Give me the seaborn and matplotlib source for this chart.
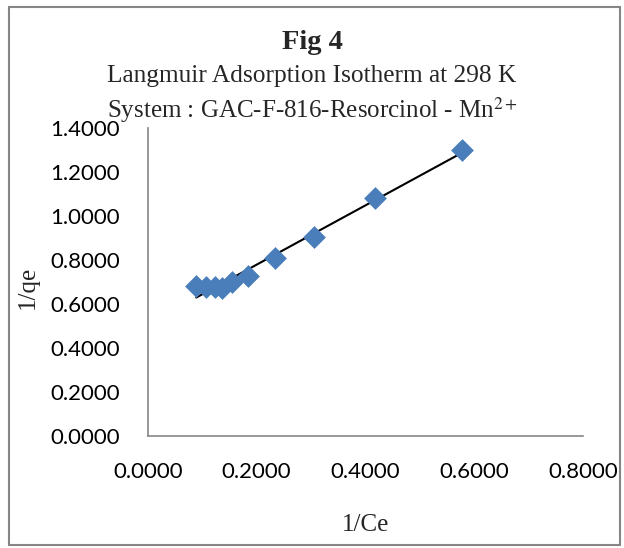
import numpy as np
import pandas as pd
import matplotlib
matplotlib.use('Agg')
import matplotlib.pyplot as plt
import seaborn as sns
from matplotlib.patches import Rectangle

# 数据
inv_ce = [0.089, 0.107, 0.123, 0.137, 0.154, 0.185, 0.234, 0.305, 0.418, 0.577]
inv_qe = [0.681, 0.679, 0.677, 0.675, 0.699, 0.729, 0.808, 0.903, 1.083, 1.303]

x_ticks = [0.0, 0.2, 0.4, 0.6, 0.8]
y_ticks = [0.0, 0.2, 0.4, 0.6, 0.8, 1.0, 1.2, 1.4]

df = pd.DataFrame({'1/Ce': inv_ce, '1/qe': inv_qe})

sns.set_style('white')
plt.rcParams['font.family'] = ['Lato', 'DejaVu Sans']
plt.rcParams['mathtext.fontset'] = 'stix'

fig = plt.figure(figsize=(6.24, 5.48), dpi=100)
ax = fig.add_axes([0.237, 0.2044, 0.697, 0.5616])

blue = '#4A7EBB'
sns.regplot(data=df, x='1/Ce', y='1/qe', ax=ax, scatter=False, ci=None,
            line_kws={'color': 'black', 'linewidth': 1.5})
sns.scatterplot(data=df, x='1/Ce', y='1/qe', ax=ax, marker='D', s=135,
                color=blue, edgecolor=blue, linewidth=0, zorder=3)

ax.set_xlim(0, 0.8)
ax.set_ylim(0, 1.4)
ax.set_xticks(x_ticks)
ax.set_yticks(y_ticks)
ax.set_xticklabels([f'{v:.4f}' for v in x_ticks])
ax.set_yticklabels([f'{v:.4f}' for v in y_ticks])
ax.tick_params(axis='both', length=0, labelsize=16, colors='black')
ax.tick_params(axis='x', pad=18.5)
ax.tick_params(axis='y', pad=20)

for side in ['top', 'right']:
    ax.spines[side].set_visible(False)
for side in ['left', 'bottom']:
    ax.spines[side].set_color('#868686')
    ax.spines[side].set_linewidth(1.2)

serif = ['Liberation Serif', 'DejaVu Serif']
ax.set_xlabel('1/Ce', fontsize=18, family=serif, va='top')
ax.set_ylabel('1/qe', fontsize=18, family=serif)
ax.xaxis.set_label_coords(0.5, -0.255)
ax.yaxis.set_label_coords(-0.25, 0.484)

fig.text(0.5, 0.9106, 'Fig 4', ha='center', va='baseline', fontsize=20.5,
         fontweight='bold', family=serif)
fig.text(0.5, 0.850, 'Langmuir Adsorption Isotherm at 298 K', ha='center',
         va='baseline', fontsize=18.3, family=serif)
fig.text(0.5, 0.785, 'System : GAC-F-816-Resorcinol - Mn$^{2+}$', ha='center',
         va='baseline', fontsize=18, family=serif)

# 外边框
fig.patches.append(Rectangle((0.014, 0.005), 0.98, 0.983, transform=fig.transFigure,
                             fill=False, edgecolor='#868686', linewidth=1.5))

fig.savefig('out.png', dpi=100)
